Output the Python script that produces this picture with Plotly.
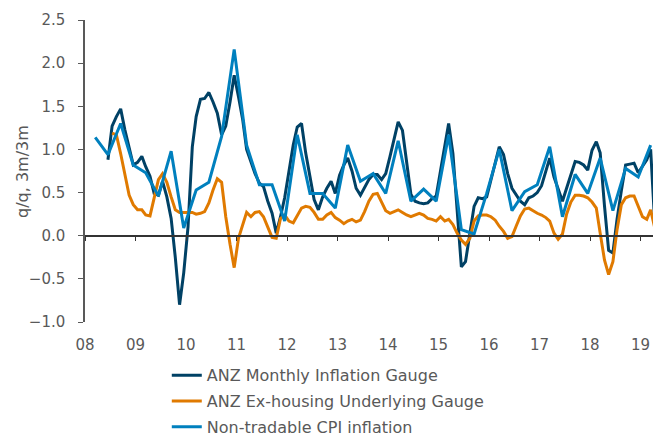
import pandas as pd
import plotly.graph_objects as go

# ---------------- data ----------------
gauge_start = "2008-06-01"   # ANZ Monthly Inflation Gauge (monthly)
gauge = [0.88, 1.27, 1.38, 1.47, 1.23, 1.02, 0.82, 0.85, 0.92, 0.80, 0.69, 0.49,
         0.47, 0.63, 0.45, 0.20, -0.25, -0.80, -0.43, 0.10, 1.03, 1.38, 1.58, 1.59,
         1.66, 1.55, 1.42, 1.17, 1.27, 1.55, 1.86, 1.61, 1.34, 1.00, 0.86, 0.72,
         0.61, 0.57, 0.40, 0.26, 0.03, 0.22, 0.44, 0.75, 1.05, 1.26, 1.30, 0.96,
         0.66, 0.42, 0.30, 0.45, 0.55, 0.63, 0.49, 0.70, 0.82, 0.90, 0.75, 0.55,
         0.47, 0.56, 0.65, 0.71, 0.71, 0.65, 0.72, 0.92, 1.12, 1.32, 1.22, 0.88,
         0.48, 0.40, 0.38, 0.37, 0.38, 0.43, 0.46, 0.75, 1.05, 1.30, 0.95, 0.35,
         -0.36, -0.30, 0.05, 0.34, 0.44, 0.43, 0.45, 0.65, 0.85, 1.03, 0.94, 0.72,
         0.55, 0.47, 0.40, 0.36, 0.44, 0.46, 0.50, 0.58, 0.76, 0.90, 0.68, 0.53,
         0.40, 0.55, 0.72, 0.86, 0.85, 0.82, 0.76, 0.99, 1.09, 0.96, 0.35, -0.17,
         -0.20, 0.19, 0.52, 0.82, 0.83, 0.84, 0.73, 0.80, 0.88, 1.00, 0.10]

exhousing_start = "2008-07-01"   # ANZ Ex-housing Underlying Gauge (monthly)
exhousing = [1.19, 1.17, 0.95, 0.70, 0.47, 0.36, 0.30, 0.30, 0.24, 0.23, 0.42, 0.65,
             0.72, 0.62, 0.45, 0.30, 0.27, 0.27, 0.27, 0.27, 0.25, 0.26, 0.28, 0.38,
             0.53, 0.66, 0.62, 0.22, -0.10, -0.37, -0.03, 0.12, 0.27, 0.22, 0.27, 0.28,
             0.22, 0.10, -0.02, -0.03, 0.20, 0.24, 0.17, 0.15, 0.24, 0.32, 0.34, 0.33,
             0.27, 0.19, 0.19, 0.24, 0.27, 0.21, 0.18, 0.14, 0.17, 0.19, 0.16, 0.18,
             0.28, 0.40, 0.48, 0.49, 0.39, 0.29, 0.26, 0.28, 0.30, 0.27, 0.24, 0.22,
             0.24, 0.26, 0.24, 0.20, 0.19, 0.17, 0.22, 0.17, 0.19, 0.13, 0.03, -0.05,
             -0.10, -0.03, 0.17, 0.23, 0.24, 0.24, 0.22, 0.18, 0.11, 0.05, -0.03, -0.01,
             0.11, 0.23, 0.31, 0.32, 0.29, 0.26, 0.24, 0.21, 0.17, 0.03, -0.04, 0.02,
             0.25, 0.39, 0.47, 0.47, 0.46, 0.44, 0.39, 0.32, 0.03, -0.28, -0.45, -0.30,
             0.07, 0.36, 0.44, 0.46, 0.46, 0.34, 0.22, 0.19, 0.30, 0.08]

nontradable_start = "2008-03-01"   # Non-tradable CPI inflation (quarterly)
nontradable = [1.14, 0.94, 1.30, 0.82,
               0.73, 0.46, 0.98, 0.09,
               0.53, 0.62, 1.15, 2.16,
               1.05, 0.59, 0.59, 0.17,
               1.17, 0.49, 0.49, 0.32,
               1.05, 0.63, 0.72, 0.49,
               1.10, 0.40, 0.54, 0.40,
               1.17, 0.07, 0.02, 0.49,
               1.00, 0.29, 0.51, 0.59,
               1.03, 0.22, 0.71, 0.49,
               0.90, 0.29, 0.78, 0.68,
               1.05]

series_names = ["ANZ Monthly Inflation Gauge",
                "ANZ Ex-housing Underlying Gauge",
                "Non-tradable CPI inflation"]
y_title = "q/q, 3m/3m"
y_ticks = [-1.0, -0.5, 0.0, 0.5, 1.0, 1.5, 2.0, 2.5]

# ---------------- styling ----------------
C_DARK = "#004165"
C_ORANGE = "#E07A00"
C_LIGHT = "#0080BE"
TXT = "#595959"
FONT = "DejaVu Sans"


def dates(start, n, months):
    return pd.date_range(start, periods=n, freq=f"{months}MS") + pd.Timedelta(days=14)


fig = go.Figure()
fig.add_trace(go.Scatter(x=dates(gauge_start, len(gauge), 1), y=gauge,
                         mode="lines", name=series_names[0], legendgroup="a",
                         line=dict(color=C_DARK, width=3)))
fig.add_trace(go.Scatter(x=dates(exhousing_start, len(exhousing), 1), y=exhousing,
                         mode="lines", name=series_names[1], legendgroup="b",
                         line=dict(color=C_ORANGE, width=3)))
fig.add_trace(go.Scatter(x=dates(nontradable_start, len(nontradable), 3), y=nontradable,
                         mode="lines", name=series_names[2], legendgroup="c",
                         line=dict(color=C_LIGHT, width=3)))
# helper trace so that the zero-crossing axis is drawn
fig.add_trace(go.Scatter(x=[pd.Timestamp("2008-06-15")], y=[None], xaxis="x2",
                         showlegend=False, hoverinfo="skip", mode="lines"))

x_range = ["2008-01-01", "2019-04-01"]
y_min, y_max = -1.0, 2.5

fig.update_layout(
    width=653, height=437,
    margin=dict(l=85, r=0, t=20, b=115, autoexpand=False),
    paper_bgcolor="white", plot_bgcolor="white",
    font=dict(family=FONT, size=15, color=TXT),
    showlegend=True,
    legend=dict(x=0.144, y=-0.12, xanchor="left", yanchor="top",
                font=dict(size=16, color=TXT), tracegroupgap=2,
                bgcolor="rgba(0,0,0,0)", borderwidth=0, itemwidth=30),
    xaxis=dict(type="date", range=x_range, tickformat="%y", dtick="M12",
               tick0="2008-01-01", showgrid=False, zeroline=False,
               showline=False, ticks="", ticklabelstandoff=12,
               tickfont=dict(size=15, color=TXT)),
    xaxis2=dict(type="date", matches="x", overlaying="x", anchor="free",
                position=(0 - y_min) / (y_max - y_min), side="bottom",
                range=x_range, dtick="M12", tick0="2008-01-01",
                showgrid=False, zeroline=False, showline=True,
                linecolor="#333333", linewidth=1.5, ticks="outside", ticklen=5,
                tickcolor="#333333", showticklabels=False),
    yaxis=dict(range=[y_min, y_max], tickvals=y_ticks, tickformat=".1f",
               showgrid=False, zeroline=False, showline=True,
               linecolor="#595959", linewidth=1.5, ticks="outside", ticklen=5,
               tickcolor="#595959", ticklabelstandoff=10,
               tickfont=dict(size=15, color=TXT)),
)

fig.add_annotation(text=y_title, xref="paper", yref="paper", x=-0.111, y=0.5,
                   xanchor="center", yanchor="middle", textangle=-90,
                   showarrow=False, font=dict(size=16, color=TXT))

fig.write_html("out.html")
